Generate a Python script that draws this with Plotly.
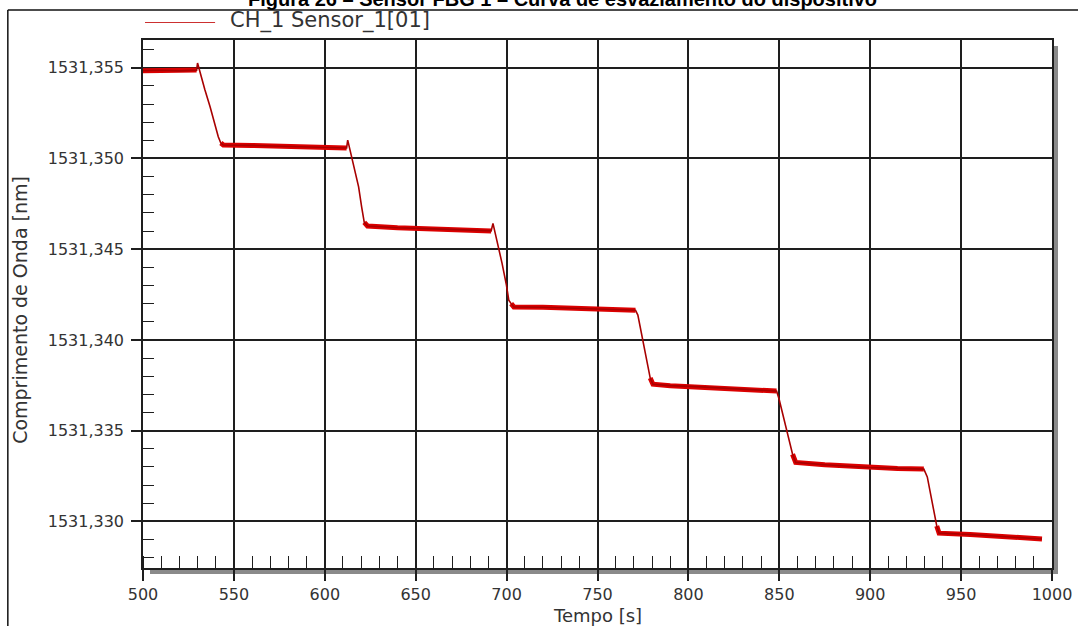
import plotly.graph_objects as go

# CH_1 / Sensor_1[01]: Bragg wavelength read while the device is emptied
tempo_s = [
    500, 510, 520, 529.5, 530.0,
    531.4, 534.0, 536.9, 539.5, 541.4, 542.8, 544.2,
    560, 580, 600, 612.0, 612.6,
    614.0, 616.3, 618.6, 620.3, 621.7, 623.5,
    640, 660, 680, 691.5, 692.5,
    694.7, 697.5, 699.9, 701.2, 702.5, 704.0,
    720, 740, 760, 770.9,
    772.2, 774.5, 777.0, 779.0, 780.5,
    790, 806.7, 825, 848.5,
    849.8, 852.5, 855.3, 857.3, 859.0,
    875, 900, 915, 929.5,
    931.4, 933.3, 935.1, 936.6, 937.9,
    955, 975, 994.5,
]
comprimento_nm = [
    1531.35484, 1531.35486, 1531.35483, 1531.35487, 1531.35526,
    1531.35469, 1531.35380, 1531.35285, 1531.35190, 1531.35120, 1531.35085, 1531.35074,
    1531.35072, 1531.35066, 1531.35062, 1531.35058, 1531.35101,
    1531.35037, 1531.34940, 1531.34844, 1531.34730, 1531.34648, 1531.34628,
    1531.34618, 1531.34612, 1531.34606, 1531.34601, 1531.34642,
    1531.34550, 1531.34422, 1531.34302, 1531.34219, 1531.34200, 1531.34182,
    1531.34180, 1531.34174, 1531.34169, 1531.34164,
    1531.34137, 1531.34020, 1531.33890, 1531.33790, 1531.33756,
    1531.33748, 1531.33741, 1531.33730, 1531.33718,
    1531.33677, 1531.33560, 1531.33447, 1531.33370, 1531.33325,
    1531.33312, 1531.33297, 1531.33292, 1531.33288,
    1531.33245, 1531.33140, 1531.33043, 1531.32975, 1531.32935,
    1531.32928, 1531.32915, 1531.32903,
]

# stable levels (start, end) in seconds, where the reading is noisy but flat
patamares_s = [(500, 529.5), (542.8, 612.0), (621.7, 691.5), (702.5, 770.9),
               (779, 848.5), (857.3, 929.5), (936.6, 994.5)]

serie_nome = "CH_1 Sensor_1[01]"
titulo = "Figura 26 – Sensor FBG 1 – Curva de esvaziamento do dispositivo"
x_titulo = "Tempo [s]"
y_titulo = "Comprimento de Onda [nm]"

x_range = [500, 1000]
y_range = [1531.32743, 1531.35653]

FONT = "DejaVu Sans"
INK = "#1e1e1e"
RED = "#dc0000"

# thick copy only over the flat stretches (noise band look)
banda = [v if any(a <= t <= b for a, b in patamares_s) else None
         for t, v in zip(tempo_s, comprimento_nm)]

fig = go.Figure()
fig.add_trace(go.Scatter(x=tempo_s, y=banda, mode="lines", name=serie_nome,
                         line=dict(color=RED, width=5), connectgaps=False,
                         showlegend=False, hoverinfo="skip"))
fig.add_trace(go.Scatter(x=tempo_s, y=comprimento_nm, mode="lines", name=serie_nome,
                         line=dict(color="#a80000", width=1.6), showlegend=False))

axis_common = dict(
    showgrid=True, gridcolor=INK, gridwidth=1.5,
    showline=True, linecolor=INK, linewidth=1.5, mirror=True,
    ticks="outside", tickwidth=1.5, tickcolor=INK,
    tickfont=dict(family=FONT, size=16, color="#333333"),
    zeroline=False, automargin=False,
)

fig.update_xaxes(range=x_range, tick0=500, dtick=50, ticklen=11,
                 minor=dict(dtick=10, ticks="inside", ticklen=12, tickwidth=1.3,
                            tickcolor=INK, showgrid=False),
                 **axis_common)
fig.update_yaxes(range=y_range, tick0=1531.330, dtick=0.005, tickformat=".3f",
                 ticklen=10, ticklabelstandoff=4,
                 minor=dict(dtick=0.001, ticks="inside", ticklen=11, tickwidth=1.3,
                            tickcolor=INK, showgrid=False),
                 **axis_common)

shapes = [
    # drop shadow under and right of the plot frame
    dict(type="rect", xref="paper", yref="paper", x0=0.0077, x1=1.0066,
         y0=-0.0114, y1=-0.0015, line=dict(width=0), fillcolor="#8a8a8a", layer="below"),
    dict(type="rect", xref="paper", yref="paper", x0=1.0015, x1=1.0066,
         y0=-0.0114, y1=0.9886, line=dict(width=0), fillcolor="#8a8a8a", layer="below"),
    # outer border of the figure panel
    dict(type="line", xref="paper", yref="paper", x0=-0.1487, x1=1.06,
         y0=1.0568, y1=1.0568, line=dict(color="#111111", width=1.5)),
    dict(type="line", xref="paper", yref="paper", x0=-0.1487, x1=-0.1487,
         y0=1.0568, y1=-0.2, line=dict(color="#111111", width=1.5)),
    # legend sample line
    dict(type="line", xref="paper", yref="paper", x0=0.0022, x1=0.0793,
         y0=1.0331, y1=1.0331, line=dict(color="#cc3030", width=1.2)),
]

annotations = [
    dict(text=titulo, xref="paper", yref="paper", x=0.4615, y=1.0777,
         xanchor="center", yanchor="middle", showarrow=False,
         font=dict(family="Liberation Sans", size=20, color="#000000", weight="bold")),
    dict(text=serie_nome, xref="paper", yref="paper", x=0.0930, y=1.036,
         xanchor="left", yanchor="middle", showarrow=False,
         font=dict(family=FONT, size=21, color="#333333")),
    dict(text=x_titulo, xref="paper", yref="paper", x=0.5, y=-0.0909,
         xanchor="center", yanchor="middle", showarrow=False,
         font=dict(family=FONT, size=18, color="#333333")),
    dict(text=y_titulo, xref="paper", yref="paper", x=-0.1355, y=0.4886,
         xanchor="center", yanchor="middle", showarrow=False, textangle=-90,
         font=dict(family=FONT, size=19, color="#333333")),
]

fig.update_layout(
    width=1078, height=626,
    margin=dict(l=143, r=26, t=40, b=58),
    paper_bgcolor="white", plot_bgcolor="white",
    separators=",.",
    showlegend=False,
    shapes=shapes, annotations=annotations,
)

fig.write_html("out.html")
